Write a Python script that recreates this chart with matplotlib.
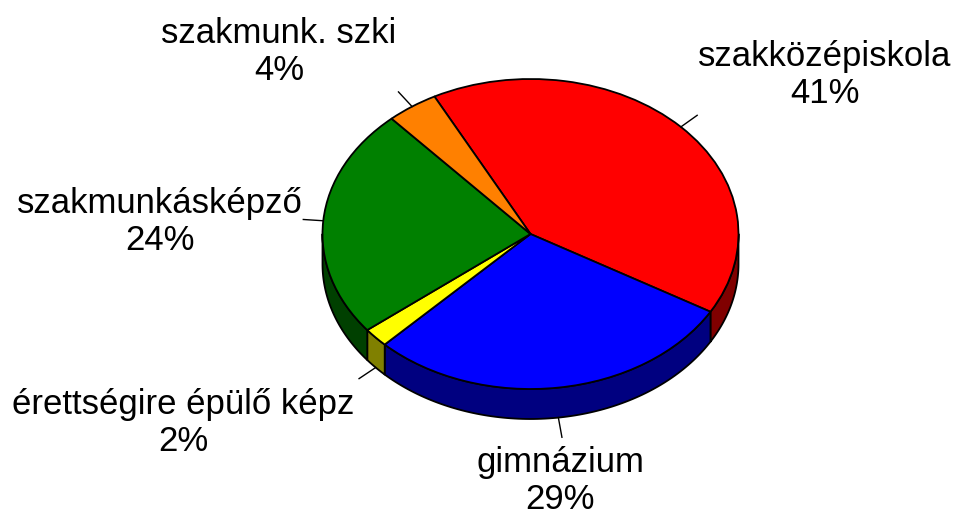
import numpy as np
import matplotlib
matplotlib.use("Agg")
import matplotlib.pyplot as plt
from matplotlib.patches import Polygon

plt.rcParams['font.family'] = ['Liberation Sans', 'DejaVu Sans']

categories = ["szakközépiskola", "gimnázium", "érettségire épülő képz",
              "szakmunkásképző", "szakmunk. szki"]
values = [41, 29, 2, 24, 4]
top_colors = ["#FF0000", "#0000FF", "#FFFF00", "#008000", "#FF8000"]
side_colors = ["#800000", "#000080", "#808000", "#004000", "#804000"]

# layout (pixels)
W, H = 954, 515
CX, CY = 530.5, 234.0       # centre of top face
RX, RY = 208.0, 155.0       # ellipse radii
DEPTH = 30.0                # side thickness
START = 117.5               # start angle (deg)
label_pos = [(825, 75), (560, 481), (183, 423), (160, 222), (279, 52)]
leader_len = 20.0

fig = plt.figure(figsize=(W / 100, H / 100), dpi=100)
ax = fig.add_axes([0, 0, 1, 1])

def px(x, y):
    return ((x - CX) / RX, (CY - y) / RY)

d = DEPTH / RY
total = float(sum(values))

# side walls
theta = START
bounds = []
for v in values:
    t1 = theta
    t2 = theta - 360.0 * v / total
    bounds.append((t2, t1))
    theta = t2

for (t2, t1), sc in zip(bounds, side_colors):
    for k in (-1, 0, 1):
        lo = max(t2, -180 + 360 * k)
        hi = min(t1, 0 + 360 * k)
        if hi > lo:
            ts = np.radians(np.linspace(lo, hi, 100))
            top = np.column_stack([np.cos(ts), np.sin(ts)])
            bot = np.column_stack([np.cos(ts), np.sin(ts) - d])[::-1]
            poly = Polygon(np.vstack([top, bot]), closed=True, facecolor=sc,
                           edgecolor="black", linewidth=1.3, zorder=1,
                           joinstyle="round")
            ax.add_patch(poly)

# top face
wedges, _ = ax.pie(values, colors=top_colors, startangle=START,
                   counterclock=False, radius=1, center=(0, 0),
                   wedgeprops=dict(edgecolor="black", linewidth=1.3,
                                   joinstyle="round", zorder=2))

# labels and leader lines
for (t2, t1), cat, v, (lx, ly) in zip(bounds, categories, values, label_pos):
    mid = np.radians((t1 + t2) / 2)
    sx, sy = np.cos(mid), np.sin(mid)
    if sy < 0:
        sy -= d
    dxp, dyp = np.cos(mid) * RX, np.sin(mid) * RY
    nrm = np.hypot(dxp, dyp)
    ex = sx + dxp / nrm * leader_len / RX
    ey = sy + dyp / nrm * leader_len / RY
    ax.plot([sx, ex], [sy, ey], color="black", linewidth=1.0, zorder=3)
    tx, ty = px(lx, ly)
    ax.text(tx, ty, f"{cat}\n{v}%", ha="center", va="center",
            multialignment="center", fontsize=25, linespacing=1.15,
            color="black")

ax.set_aspect("auto")
ax.set_xlim(-CX / RX, (W - CX) / RX)
ax.set_ylim(-(H - CY) / RY, CY / RY)
ax.axis("off")

fig.savefig("out.png", dpi=100)
